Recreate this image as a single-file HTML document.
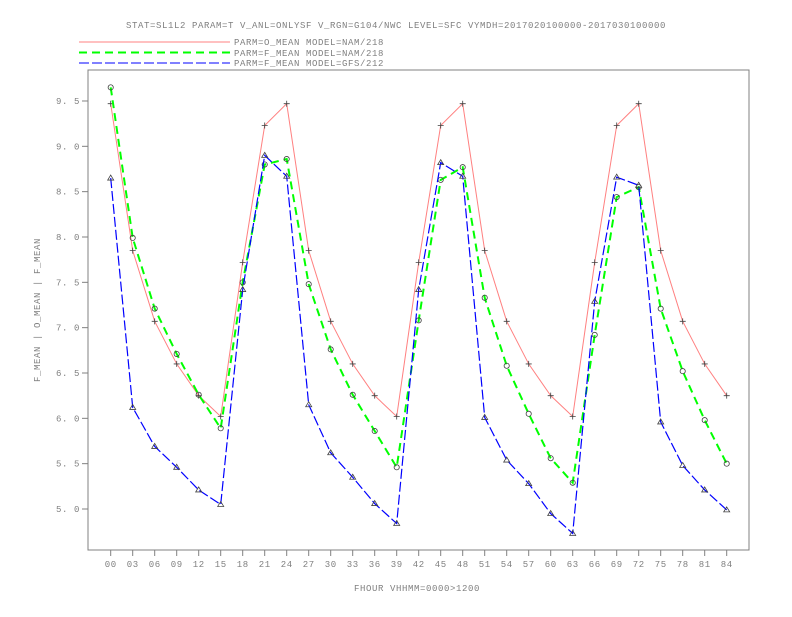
<!DOCTYPE html>
<html><head><meta charset="utf-8"><style>
body{margin:0;background:#fff}
svg text{font-family:"Liberation Mono",monospace;font-size:9px;fill:#808080}
</style></head><body>
<svg id="chart" width="792" height="612" xmlns="http://www.w3.org/2000/svg">
<text x="396" y="28" text-anchor="middle" letter-spacing="0.6">STAT=SL1L2 PARAM=T V_ANL=ONLYSF V_RGN=G104/NWC LEVEL=SFC VYMDH=2017020100000-2017030100000</text>
<g>
<line x1="79" y1="42" x2="230" y2="42" stroke="#ff8080" stroke-width="1"/>
<text x="234" y="45" letter-spacing="0.6">PARM=O_MEAN MODEL=NAM/218</text>
<line x1="79" y1="52.5" x2="230" y2="52.5" stroke="#00ff00" stroke-width="2" stroke-dasharray="8,5"/>
<text x="234" y="56" letter-spacing="0.6">PARM=F_MEAN MODEL=NAM/218</text>
<line x1="79" y1="63" x2="230" y2="63" stroke="#0000ff" stroke-width="1" stroke-dasharray="10,3"/>
<text x="234" y="66" letter-spacing="0.6">PARM=F_MEAN MODEL=GFS/212</text>
</g>
<rect x="88" y="70" width="661" height="480" fill="none" stroke="#808080" stroke-width="1"/>
<g id="axes"></g>
<g id="series"></g>
<text transform="translate(40,310) rotate(-90)" text-anchor="middle" letter-spacing="0.6">F_MEAN | O_MEAN | F_MEAN</text>
<text x="417" y="591" text-anchor="middle" letter-spacing="0.6">FHOUR VHHMM=0000&gt;1200</text>
</svg>
<script>
const categories=["00","03","06","09","12","15","18","21","24","27","30","33","36","39","42","45","48","51","54","57","60","63","66","69","72","75","78","81","84"];
const yTicks=[5.0,5.5,6.0,6.5,7.0,7.5,8.0,8.5,9.0,9.5];
const oMeanNam=[9.47,7.85,7.07,6.6,6.25,6.02,7.72,9.23,9.47,7.85,7.07,6.6,6.25,6.02,7.72,9.23,9.47,7.85,7.07,6.6,6.25,6.02,7.72,9.23,9.47,7.85,7.07,6.6,6.25];
const fMeanNam=[9.65,7.99,7.21,6.71,6.26,5.89,7.5,8.8,8.86,7.48,6.76,6.26,5.86,5.46,7.08,8.63,8.77,7.33,6.58,6.05,5.56,5.29,6.92,8.44,8.55,7.21,6.52,5.98,5.5];
const fMeanGfs=[8.65,6.12,5.69,5.46,5.21,5.05,7.42,8.9,8.67,6.15,5.62,5.35,5.06,4.84,7.42,8.82,8.67,6.01,5.54,5.28,4.95,4.73,7.29,8.66,8.57,5.96,5.48,5.21,4.99];
const NS="http://www.w3.org/2000/svg";
const xs=i=>110.7+i*22;
const ys=v=>509-(v-5)*90.67;
function mk(tag,attrs,parent){const e=document.createElementNS(NS,tag);for(const k in attrs)e.setAttribute(k,attrs[k]);parent.appendChild(e);return e;}
const axes=document.getElementById('axes');
categories.forEach((c,i)=>{
  const t=mk('line',{x1:xs(i),x2:xs(i),y1:550,y2:556,stroke:'#808080'},axes);
  
  
  const l=mk('text',{x:xs(i),y:567,'text-anchor':'middle','letter-spacing':'0.6'},axes);
  
  
  l.textContent=c;
});
yTicks.forEach(v=>{
  const t=mk('line',{x1:82,x2:88,y1:ys(v),y2:ys(v),stroke:'#808080'},axes);
  
  
  const l=mk('text',{x:80,y:ys(v)+3,'text-anchor':'end','letter-spacing':'0.6'},axes);
  
  
  l.textContent=v.toFixed(1).replace('.', '. ');
});
const sg=document.getElementById('series');
function series(data,name,color,w,dash,marker){
  const g=mk('g',{},sg);
  
  
  const pts=data.map((v,i)=>xs(i)+','+ys(v)).join(' ');
  const p=mk('polyline',{points:pts,fill:'none',stroke:color,'stroke-width':w,'stroke-dasharray':dash},g);
  
  
  data.forEach((v,i)=>{
    const x=xs(i),y=ys(v);let m;
    if(marker==='plus'){m=mk('path',{d:`M${x-3},${y}h6M${x},${y-3}v6`,stroke:'#404040','stroke-width':0.8,fill:'none'},g);}
    else if(marker==='circle'){m=mk('circle',{cx:x,cy:y,r:2.6,stroke:'#404040','stroke-width':0.8,fill:'none'},g);}
    else{m=mk('path',{d:`M${x},${y-3}L${x+3},${y+2}L${x-3},${y+2}Z`,stroke:'#404040','stroke-width':0.8,fill:'none'},g);}
    
    
  });
}
series(oMeanNam,'series-o-mean-nam','#ff8080',1,'none','plus');
series(fMeanNam,'series-f-mean-nam','#00ff00',2,'8,5','circle');
series(fMeanGfs,'series-f-mean-gfs','#0000ff',1.2,'10,3','tri');
</script>
</body></html>
